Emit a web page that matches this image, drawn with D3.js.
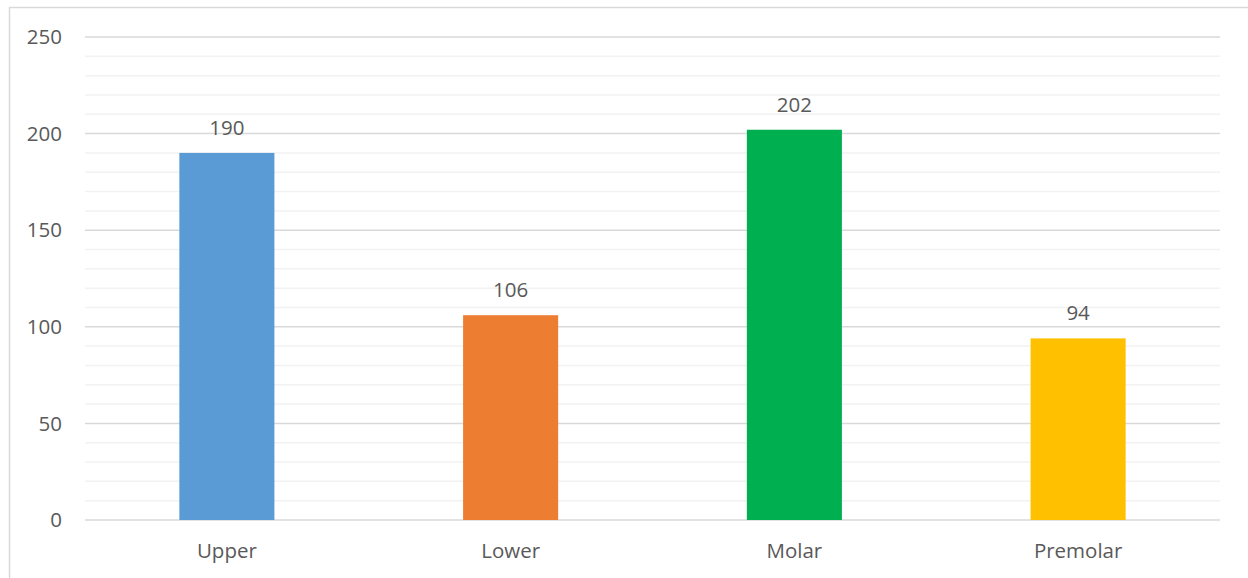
<!DOCTYPE html>
<html>
<head>
<meta charset="utf-8">
<script src="https://cdn.jsdelivr.net/npm/d3@7"></script>
<style>
  body { margin: 0; background: #fff; }
  text { font-family: "Open Sans", "Liberation Sans", sans-serif; fill: #595959; }
</style>
</head>
<body>
<svg id="chart" width="1248" height="578"></svg>
<script>
var categories = ['Upper', 'Lower', 'Molar', 'Premolar'];
var values = [190, 106, 202, 94];
var colors = ['#5B9BD5', '#ED7D31', '#00B050', '#FFC000'];
var majorTicks = [0, 50, 100, 150, 200, 250];

var svg = d3.select('#chart');
var margin = { left: 85, right: 28, top: 37, bottom: 58 };
var width = 1248 - margin.left - margin.right;
var height = 578 - margin.top - margin.bottom;

// outer chart border (clipped by the window on right and bottom)
svg.append('rect')
  .attr('x', 9.5).attr('y', 7.5)
  .attr('width', 1300).attr('height', 700)
  .attr('fill', 'none').attr('stroke', '#d9d9d9').attr('stroke-width', 1.5);

var g = svg.append('g').attr('transform', 'translate(' + margin.left + ',' + margin.top + ')');

var x = d3.scaleBand().domain(categories).range([0, width]).paddingInner(0.665).paddingOuter(0.3325);
var y = d3.scaleLinear().domain([0, 250]).range([height, 0]);

// minor gridlines every 10
g.append('g').selectAll('line')
  .data(d3.range(0, 251, 10).filter(function (d) { return d % 50 !== 0; }))
  .enter().append('line')
  .attr('x1', 0).attr('x2', width)
  .attr('y1', function (d) { return y(d); }).attr('y2', function (d) { return y(d); })
  .attr('stroke', '#f2f2f2').attr('stroke-width', 1.5);

// major gridlines
g.append('g').selectAll('line')
  .data(majorTicks)
  .enter().append('line')
  .attr('x1', 0).attr('x2', width)
  .attr('y1', function (d) { return y(d); }).attr('y2', function (d) { return y(d); })
  .attr('stroke', '#d9d9d9').attr('stroke-width', 1.5);

// y tick labels
g.append('g').selectAll('text')
  .data(majorTicks)
  .enter().append('text')
  .attr('x', -23).attr('y', function (d) { return y(d); })
  .attr('dy', '0.35em')
  .attr('text-anchor', 'end')
  .style('font-size', '20.5px')
  .text(function (d) { return d; });

// bars
g.selectAll('.bar')
  .data(values)
  .enter().append('rect')
  .attr('class', 'bar')
  .attr('x', function (d, i) { return x(categories[i]); })
  .attr('width', x.bandwidth())
  .attr('y', function (d) { return y(d); })
  .attr('height', function (d) { return height - y(d); })
  .attr('fill', function (d, i) { return colors[i]; });

// value labels
g.selectAll('.val')
  .data(values)
  .enter().append('text')
  .attr('class', 'val')
  .attr('x', function (d, i) { return x(categories[i]) + x.bandwidth() / 2; })
  .attr('y', function (d) { return y(d) - 18; })
  .attr('text-anchor', 'middle')
  .style('font-size', '20.5px')
  .text(function (d) { return d; });

// category labels
g.selectAll('.cat')
  .data(categories)
  .enter().append('text')
  .attr('class', 'cat')
  .attr('x', function (d) { return x(d) + x.bandwidth() / 2; })
  .attr('y', height + 38)
  .attr('text-anchor', 'middle')
  .style('font-size', '20.5px')
  .text(function (d) { return d; });
</script>
</body>
</html>
